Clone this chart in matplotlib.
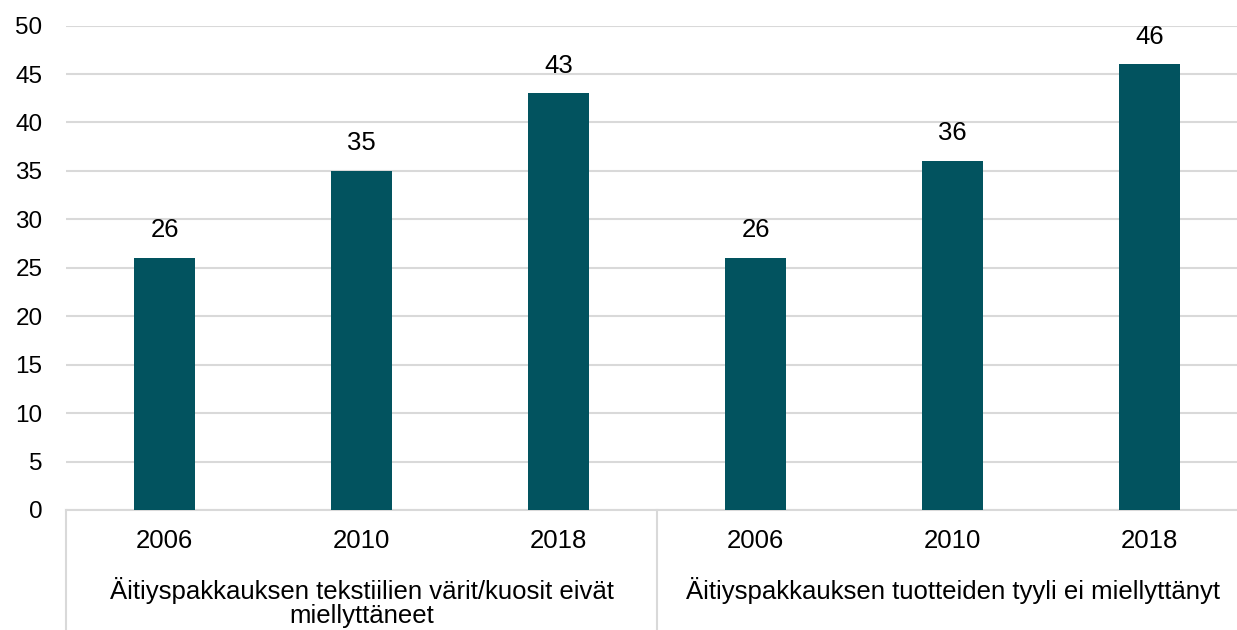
import matplotlib
matplotlib.use("Agg")
import matplotlib.pyplot as plt
import matplotlib.transforms as mtransforms

years = ["2006", "2010", "2018", "2006", "2010", "2018"]
values = [26, 35, 43, 26, 36, 46]
groups = ["Äitiyspakkauksen tekstiilien värit/kuosit eivät\nmiellyttäneet",
          "Äitiyspakkauksen tuotteiden tyyli ei miellyttänyt"]
yticks = [0, 5, 10, 15, 20, 25, 30, 35, 40, 45, 50]

BAR = "#02535F"
GRID = "#D9D9D9"
num_font = ["Liberation Sans", "DejaVu Sans"]
cat_font = ["Liberation Sans", "DejaVu Sans"]

fig = plt.figure(figsize=(12.37, 6.30), dpi=100)
ax = fig.add_axes([0.0534, 0.1905, 0.9555, 0.7689])

x = list(range(len(values)))
ax.bar(x, values, width=0.31, color=BAR, zorder=3)
ax.set_xlim(-0.5, len(values) - 0.5)
ax.set_ylim(0, 50)
ax.set_yticks(yticks)
ax.set_yticklabels([str(t) for t in yticks], fontsize=17.5, family=num_font)
ax.yaxis.grid(True, color=GRID, linewidth=1.5, zorder=0)
ax.set_axisbelow(True)
for s in ["top", "right", "left"]:
    ax.spines[s].set_visible(False)
ax.spines["bottom"].set_color(GRID)
ax.spines["bottom"].set_linewidth(1.5)
ax.tick_params(axis="both", length=0)
ax.tick_params(axis="y", pad=17)
ax.set_xticks(x)
ax.set_xticklabels(years, fontsize=18.5, family=cat_font)
ax.tick_params(axis="x", pad=14)

for xi, v in zip(x, values):
    ax.annotate(str(v), (xi, v), xytext=(0, 20), textcoords="offset points",
                ha="center", va="center", fontsize=18.5, family=num_font)

trans = mtransforms.blended_transform_factory(ax.transData, ax.transAxes)
for xd in [-0.5, 2.5, 5.5]:
    ax.plot([xd, xd], [0, -0.3], transform=trans, color=GRID, linewidth=1.5,
            clip_on=False)

for gi, label in enumerate(groups):
    ax.text(gi * 3 + 1, -0.138, label, transform=trans, ha="center", va="top",
            fontsize=18.5, family=cat_font, linespacing=1.0)

fig.savefig("out.png", dpi=100)
